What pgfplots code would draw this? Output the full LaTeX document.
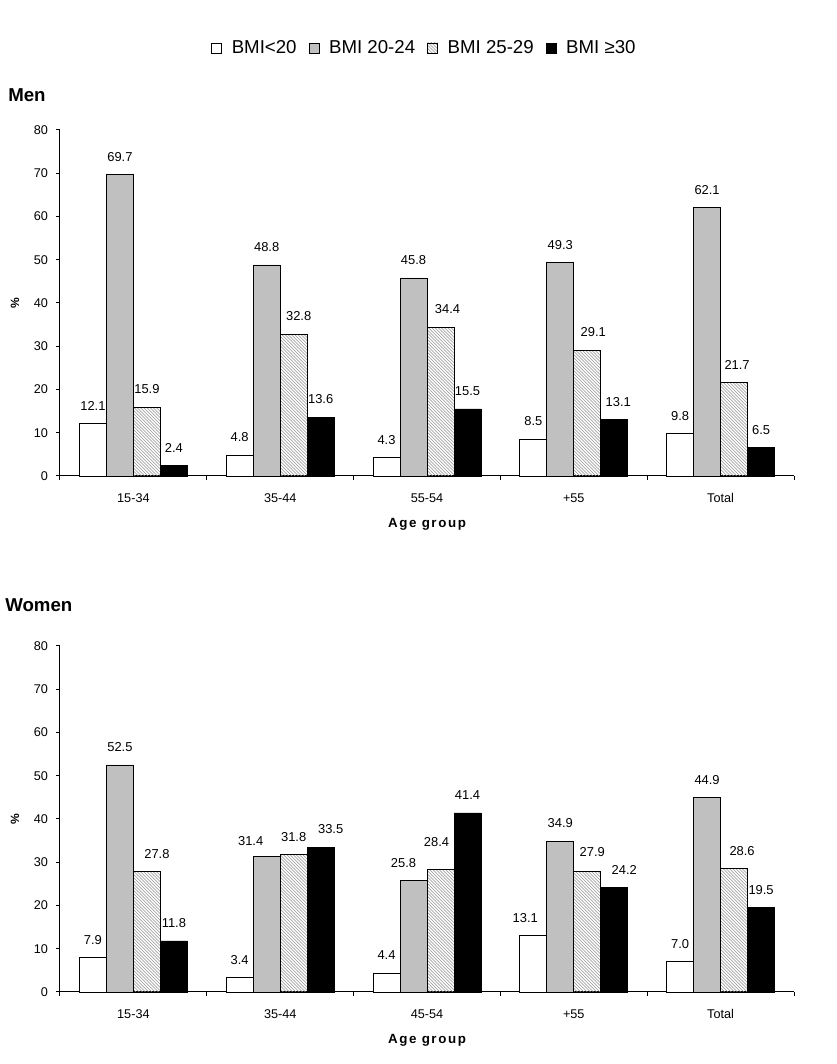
\documentclass[border=0pt]{standalone}
\usepackage{fontspec}
\setmainfont{Liberation Sans}
\usepackage{pgfplots}
\pgfplotsset{compat=1.18}
\usepackage{pgfplotstable}
\usetikzlibrary{patterns}

\pgfdeclarepatternformonly{finenw}{\pgfqpoint{-0.2pt}{-0.2pt}}{\pgfqpoint{2.6pt}{2.6pt}}{\pgfqpoint{2.4pt}{2.4pt}}{%
  \pgfsetlinewidth{0.4pt}%
  \pgfpathmoveto{\pgfqpoint{-0.1pt}{2.5pt}}%
  \pgfpathlineto{\pgfqpoint{2.5pt}{-0.1pt}}%
  \pgfusepath{stroke}}

\pgfplotstableread{
x a b c d adx bdx cdx ddx ady bdy cdy ddy
0 12.1 69.7 15.9 2.4 0 0 0 0 0 0 0 0
1 4.8 48.8 32.8 13.6 0 0 5 0 0 0 0 0
2 4.3 45.8 34.4 15.5 0 0 7 0 0 0 0 0
3 8.5 49.3 29.1 13.1 0 0 6 4 0 0 0 0
4 9.8 62.1 21.7 6.5 0 0 3 0 0 0 0 0
}\men

\pgfplotstableread{
x a b c d adx bdx cdx ddx ady bdy cdy ddy
0 7.9 52.5 27.8 11.8 0 0 10 0 0 0 0 0
1 3.4 31.4 31.8 33.5 0 -16 0 10 0 -3 0 0
2 4.4 25.8 28.4 41.4 0 -10 -4 0 0 0 9 0
3 13.1 34.9 27.9 24.2 -8 0 5 10 0 0 2 0
4 7.0 44.9 28.6 19.5 0 0 8 0 0 0 0 0
}\women

\definecolor{barGray}{HTML}{C0C0C0}

\pgfplotsset{
  sq/.style={legend image code/.code={\draw[##1] (0pt,-3.75pt) rectangle (7.5pt,3.75pt);}},
  lbl/.style 2 args={
    forget plot,
    visualization depends on={\thisrow{#1} \as \dx},
    visualization depends on={\thisrow{#2} \as \dy},
    every node near coord/.append style={xshift={\dx*0.75pt}, yshift={6.2pt+\dy*0.75pt}}
  },
  bmiaxis/.style={
    scale only axis, width=550.5pt, height=259.5pt,
    xmin=-0.5, xmax=4.5, ymin=0, ymax=80,
    ytick={0,10,...,80},
    axis x line*=bottom, axis y line*=left,
    axis line style={-, line width=0.75pt, black},
    tick align=outside, major tick length=3pt,
    tick style={black, line width=0.75pt},
    xtick={-0.5,0.5,...,4.5}, xticklabels={,,,,,},
    extra x ticks={0,1,2,3,4},
    extra x tick style={major tick length=0pt},
    xticklabel style={yshift=-9.25pt, text height=0.72em, text depth=0pt},
    yticklabel style={xshift=-2.5pt},
    ybar, bar width=20.25pt,
    clip=false,
    tick label style={font=\fontsize{9.5}{11}\selectfont},
    /pgf/number format/assume math mode=true,
    nodes near coords={\pgfmathprintnumber[fixed,fixed zerofill,precision=1]{\pgfplotspointmeta}},
    every node near coord/.append style={font=\fontsize{9.7}{11}\selectfont, black},
    ylabel={\%},
    ylabel style={font=\bfseries\fontsize{9}{10}\selectfont, at={(axis description cs:-0.0613,0.5)}, anchor=center},
    xlabel={Age group},
    xlabel style={font=\bfseries\fontsize{10}{12}\selectfont\addfontfeatures{LetterSpace=12}, at={(axis description cs:0.5,-0.141)}, anchor=center},
  },
  sa/.style={fill=white, draw=black, line width=0.6pt},
  sb/.style={fill=barGray, draw=black, line width=0.6pt},
  sc/.style={pattern=finenw, pattern color=black!42, draw=black, line width=0.6pt},
  sd/.style={fill=black, draw=black, line width=0.6pt},
  pa/.style={sa, bar shift=-30.375pt},
  pb/.style={sb, bar shift=-10.125pt},
  pc/.style={sc, bar shift=10.125pt},
  pd/.style={sd, bar shift=30.375pt},
}

\begin{document}
\begin{tikzpicture}
\useasboundingbox (0,0) rectangle (627.75pt,798pt);

\begin{axis}[bmiaxis, at={(45pt,441pt)}, anchor=south west,
  extra x tick labels={15-34,35-44,55-54,+55,Total},
  legend style={draw=none, fill=none, at={(0.497,1.237)}, anchor=center,
    font=\fontsize{14}{16}\selectfont,
    /tikz/every odd column/.append style={column sep=5.25pt},
    /tikz/every even column/.append style={column sep=7pt}},
  legend columns=4, legend cell align=left]
\addplot[pa, lbl={adx}{ady}] table[x=x,y=a] {\men};
\addplot[pb, lbl={bdx}{bdy}] table[x=x,y=b] {\men};
\addplot[pc, lbl={cdx}{cdy}] table[x=x,y=c] {\men};
\addplot[pd, lbl={ddx}{ddy}] table[x=x,y=d] {\men};
\addlegendimage{sa, sq}
\addlegendimage{sb, sq}
\addlegendimage{sc, sq}
\addlegendimage{sd, sq}
\legend{BMI<20, BMI 20-24, BMI 25-29, BMI ≥30}
\end{axis}

\begin{axis}[bmiaxis, at={(45pt,54pt)}, anchor=south west,
  extra x tick labels={15-34,35-44,45-54,+55,Total}]
\addplot[pa, lbl={adx}{ady}] table[x=x,y=a] {\women};
\addplot[pb, lbl={bdx}{bdy}] table[x=x,y=b] {\women};
\addplot[pc, lbl={cdx}{cdy}] table[x=x,y=c] {\women};
\addplot[pd, lbl={ddx}{ddy}] table[x=x,y=d] {\women};
\end{axis}

\node[anchor=base west, inner sep=0pt, font=\bfseries\fontsize{14}{16}\selectfont] at (6pt,721.9pt) {Men};
\node[anchor=base west, inner sep=0pt, font=\bfseries\fontsize{14}{16}\selectfont] at (3.75pt,339.2pt) {Women};
\end{tikzpicture}
\end{document}
